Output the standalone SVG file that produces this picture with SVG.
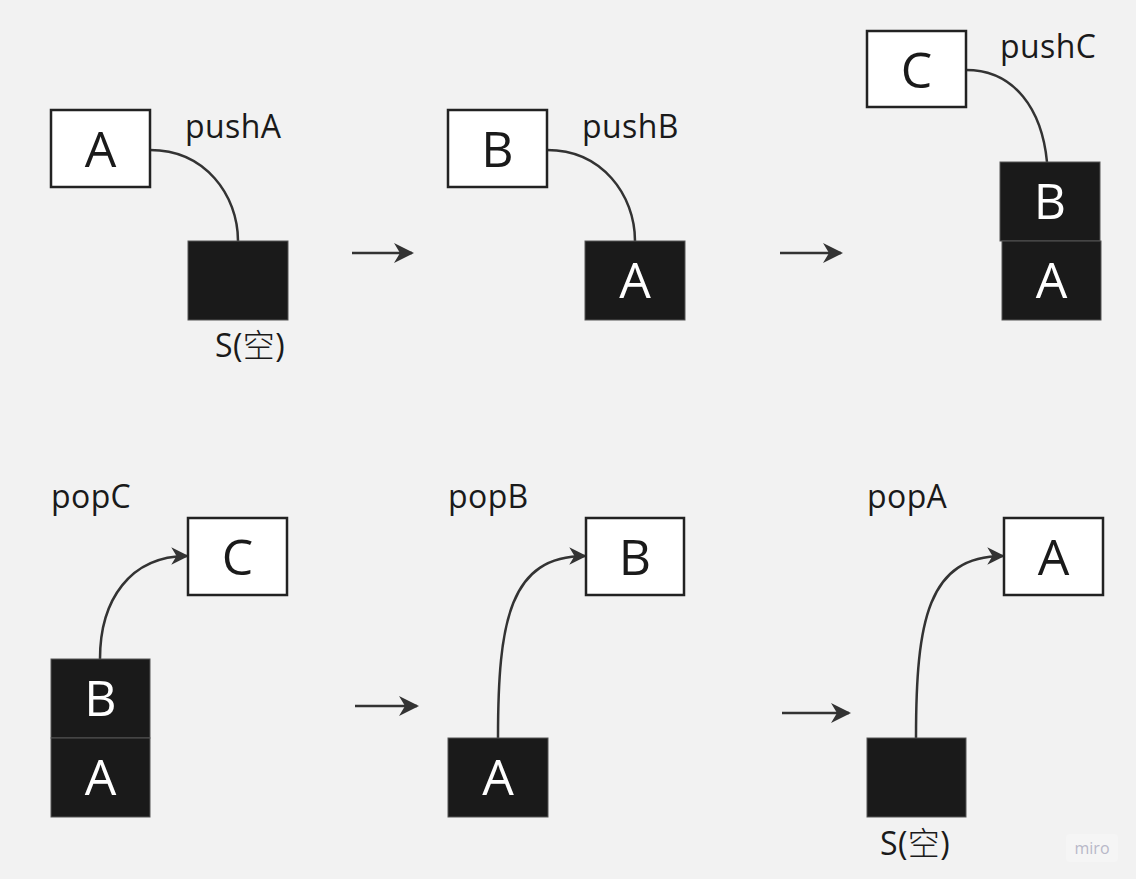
<svg xmlns="http://www.w3.org/2000/svg" width="1136" height="879" viewBox="0 0 1136 879">
<style>
.bg{fill:#f2f2f2}
.wbox{fill:#ffffff;stroke:#222222;stroke-width:2.5}
.bbox{fill:#1a1a1a;stroke:#555555;stroke-width:1}
.big{font-family:"Open Sans","Noto Sans",sans-serif;font-size:50px;text-anchor:middle}
.dark{fill:#1a1a1a}
.light{fill:#ffffff}
.lbl{font-family:"Open Sans","Noto Sans","Noto Sans CJK SC",sans-serif;font-size:32px;letter-spacing:0.4px;fill:#1a1a1a}
.cjk{font-family:"Noto Sans CJK SC",sans-serif;font-weight:300}
.conn{fill:none;stroke:#333333;stroke-width:2.5}
</style>
<defs>
<marker id="ah" viewBox="0 0 10 10" refX="9" refY="5" markerWidth="8" markerHeight="8" orient="auto" markerUnits="strokeWidth">
<path d="M0,0 L10,5 L0,10 L3,5 z" fill="#333333"/>
</marker>
<marker id="ah2" viewBox="0 0 10 10" refX="9" refY="5" markerWidth="7" markerHeight="7" orient="auto" markerUnits="strokeWidth">
<path d="M0,0 L10,5 L0,10 L3,5 z" fill="#333333"/>
</marker>
</defs>
<rect class="bg" x="0" y="0" width="1136" height="879"/>

<g id="connectors">
<path class="conn" d="M150,150 C205,150 238,195 238,241"/>
<path class="conn" d="M547,150 C602,150 635,195 635,241"/>
<path class="conn" d="M966,70 C1015,70 1042,110 1047,162"/>
<path class="conn" d="M352,253 L412,253" marker-end="url(#ah)"/>
<path class="conn" d="M780,253 L841,253" marker-end="url(#ah)"/>
<path class="conn" d="M100,659 C100,600 130,556 187,556" marker-end="url(#ah2)"/>
<path class="conn" d="M498,738 C498,620 510,556 585,556" marker-end="url(#ah2)"/>
<path class="conn" d="M916,738 C916,620 928,556 1003,556" marker-end="url(#ah2)"/>
<path class="conn" d="M355,706 L417,706" marker-end="url(#ah)"/>
<path class="conn" d="M782,713 L849,713" marker-end="url(#ah)"/>
</g>

<g id="p1-A"><rect class="wbox" x="51" y="110" width="99" height="77"/><text class="big dark" x="100.5" y="167">A</text></g>
<g id="p1-S"><rect class="bbox" x="188" y="241" width="100" height="79"/></g>
<g id="p1-labels"><text class="lbl" x="185" y="138">pushA</text><text class="lbl" x="215" y="357">S(<tspan class="cjk">空</tspan>)</text></g>

<g id="p2-B"><rect class="wbox" x="448" y="110" width="99" height="77"/><text class="big dark" x="497.5" y="167">B</text></g>
<g id="p2-A"><rect class="bbox" x="585" y="241" width="100" height="79"/><text class="big light" x="635" y="298">A</text></g>
<g id="p2-labels"><text class="lbl" x="582" y="138">pushB</text></g>

<g id="p3-C"><rect class="wbox" x="867" y="31" width="99" height="76"/><text class="big dark" x="916.5" y="88">C</text></g>
<g id="p3-B"><rect class="bbox" x="1000" y="162" width="100" height="79"/><text class="big light" x="1050" y="219">B</text></g>
<g id="p3-A"><rect class="bbox" x="1002" y="241" width="99" height="79"/><text class="big light" x="1051.5" y="298">A</text></g>
<g id="p3-labels"><text class="lbl" x="1000" y="58">pushC</text></g>

<g id="p4-C"><rect class="wbox" x="188" y="518" width="99" height="77"/><text class="big dark" x="237.5" y="575">C</text></g>
<g id="p4-B"><rect class="bbox" x="51" y="659" width="99" height="79"/><text class="big light" x="100.5" y="716">B</text></g>
<g id="p4-A"><rect class="bbox" x="51" y="738" width="99" height="79"/><text class="big light" x="100.5" y="795">A</text></g>
<g id="p4-labels"><text class="lbl" x="51" y="508">popC</text></g>

<g id="p5-B"><rect class="wbox" x="586" y="518" width="98" height="77"/><text class="big dark" x="635" y="575">B</text></g>
<g id="p5-A"><rect class="bbox" x="448" y="738" width="100" height="79"/><text class="big light" x="498" y="795">A</text></g>
<g id="p5-labels"><text class="lbl" x="448" y="508">popB</text></g>

<g id="p6-A"><rect class="wbox" x="1004" y="518" width="99" height="77"/><text class="big dark" x="1053.5" y="575">A</text></g>
<g id="p6-S"><rect class="bbox" x="867" y="738" width="99" height="79"/></g>
<g id="p6-labels"><text class="lbl" x="867" y="508">popA</text><text class="lbl" x="880" y="855">S(<tspan class="cjk">空</tspan>)</text></g>

<g id="watermark"><rect x="1066" y="834" width="52" height="28" rx="4" fill="#f5f5f5"/><text x="1092" y="854" font-family="Open Sans, sans-serif" font-size="16" fill="#b8b8c8" text-anchor="middle">miro</text></g>
</svg>
